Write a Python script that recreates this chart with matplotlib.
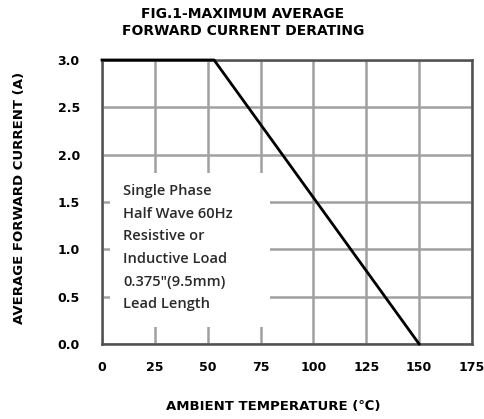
import matplotlib
matplotlib.use("Agg")
import matplotlib.pyplot as plt
from matplotlib.patches import Rectangle

temp = [0, 53, 150]
current = [3.0, 3.0, 0.0]
xticks = [0, 25, 50, 75, 100, 125, 150, 175]
yticks = [0.0, 0.5, 1.0, 1.5, 2.0, 2.5, 3.0]
note = "Single Phase\nHalf Wave 60Hz\nResistive or\nInductive Load\n0.375\"(9.5mm)\nLead Length"

BF = ['DejaVu Sans']
W, H = 485, 419
fig = plt.figure(figsize=(W/100, H/100), dpi=100)
ax = fig.add_axes([102/W, 1-344/H, (472-102)/W, (344-60)/H])
ax.set_xlim(0, 175)
ax.set_ylim(0, 3.0)
ax.set_xticks(xticks)
ax.set_yticks(yticks)
ax.set_xticklabels([str(t) for t in xticks], fontweight='bold', fontsize=9, family=BF)
ax.set_yticklabels([f"{t:.1f}" for t in yticks], fontweight='bold', fontsize=9, family=BF)
ax.tick_params(axis='y', length=0, pad=16)
ax.tick_params(axis='x', length=0, pad=12)
ax.grid(True, color='#a0a0a0', linewidth=1.8, zorder=1)
ax.set_axisbelow(True)
for s in ax.spines.values():
    s.set_color('#505050')
    s.set_linewidth(1.8)
ax.plot(temp, current, color='black', linewidth=2, zorder=4, clip_on=False)

# white box behind note, covering grid
ax.add_patch(Rectangle((3.8, 0.18), 75.7, 1.625, facecolor='white', edgecolor='none', zorder=2))
ax.text(10, 1.69, note, fontsize=10.5, family='Open Sans', fontweight='semibold', va='top', ha='left',
        linespacing=1.79, zorder=3, color='#2a2a2a')

fig.text(243/W, 1-14/H, "FIG.1-MAXIMUM AVERAGE", ha='center', va='center', fontsize=10, fontweight='bold', family=BF)
fig.text(243/W, 1-31/H, "FORWARD CURRENT DERATING", ha='center', va='center', fontsize=10, fontweight='bold', family=BF)
fig.text(20/W, 1-198/H, "AVERAGE FORWARD CURRENT (A)", rotation=90, ha='center', va='center', fontsize=9.5, fontweight='bold', family=BF)
fig.text(273/W, 1-406/H, "AMBIENT TEMPERATURE (\u2103)", ha='center', va='center', fontsize=9.5, fontweight='bold', family=BF)

fig.savefig("out.png", dpi=100)
